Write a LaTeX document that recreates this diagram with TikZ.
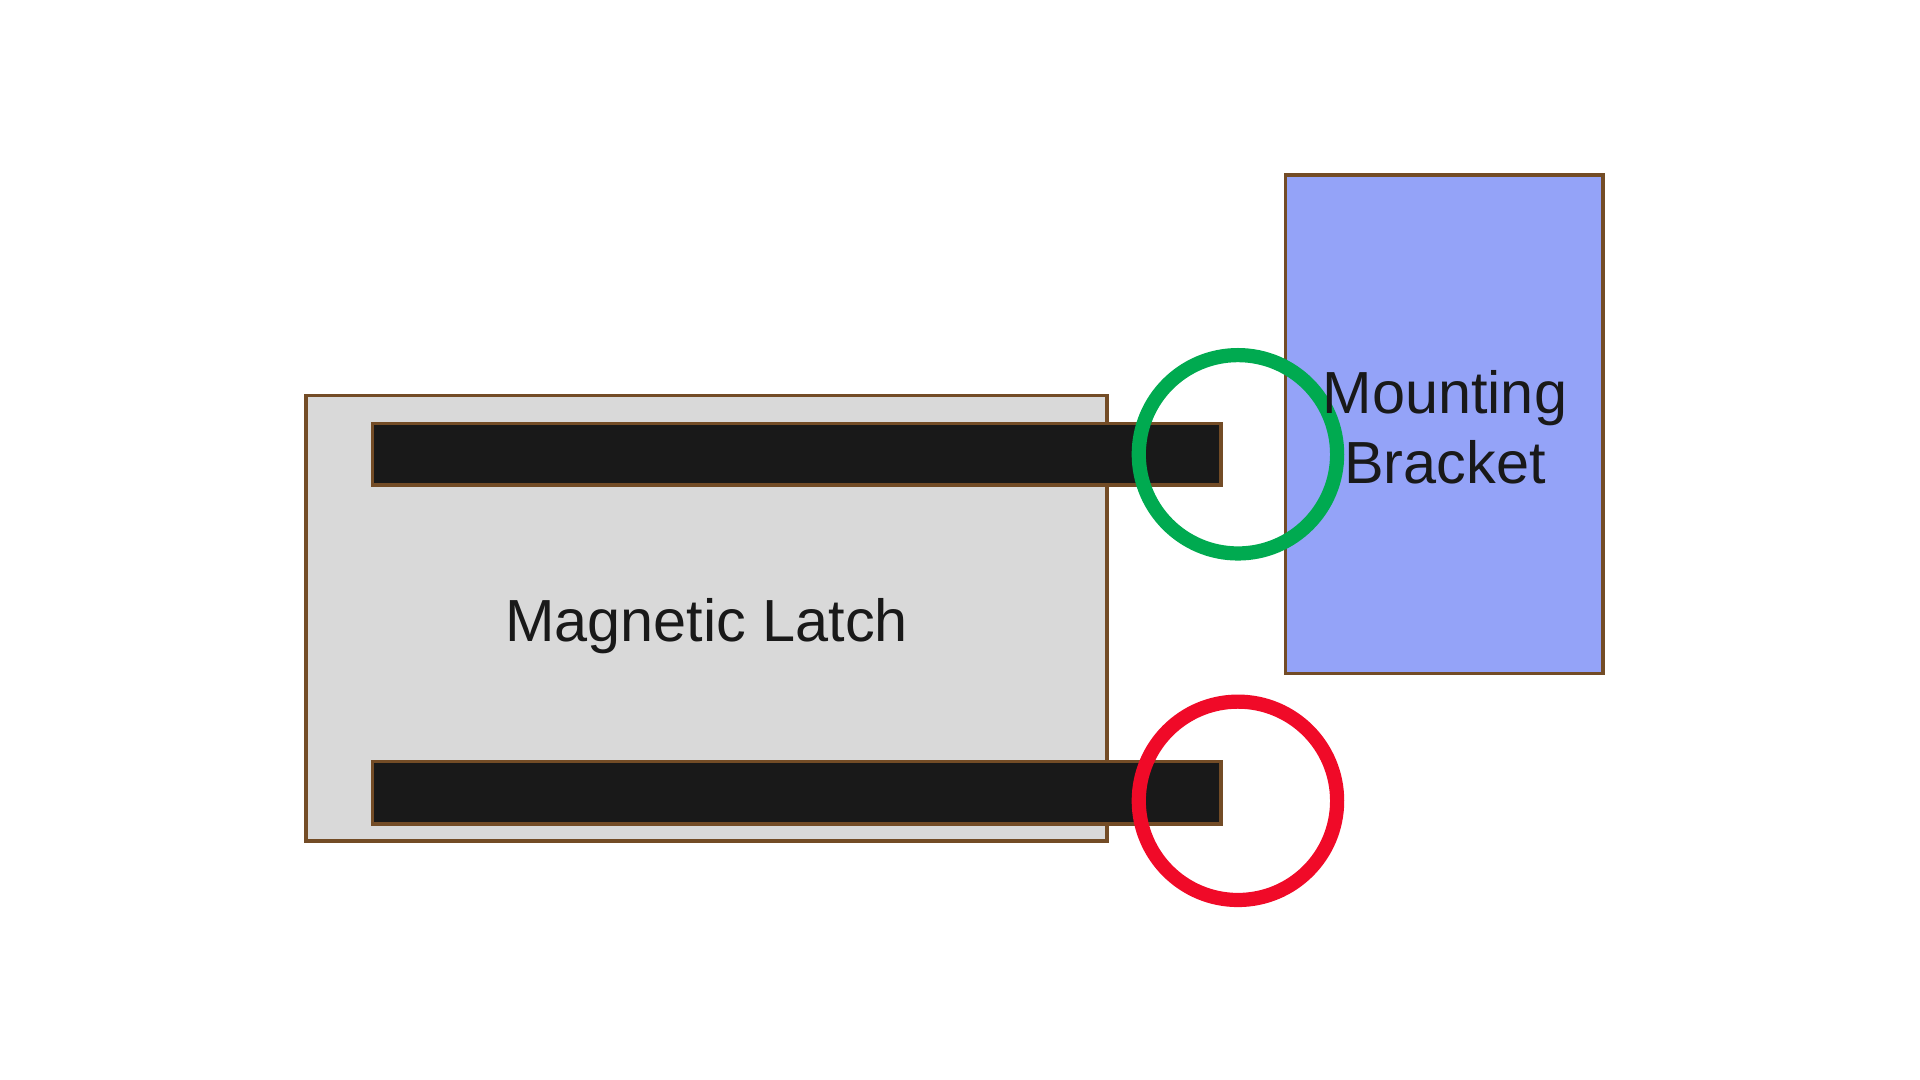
\documentclass[tikz,border=0pt]{standalone}
\usepackage{fontspec}
\setmainfont{Liberation Sans}
\begin{document}
\begin{tikzpicture}[x=0.01cm,y=-0.01cm,
  part/.style={draw=brown!60!black,line width=0.8pt},
  bar/.style={part,fill=black!90},
  ring/.style={line width=3.3pt}]
\useasboundingbox (0,0) rectangle (1568,882);
\draw[part,fill=black!15] (250,323) rectangle (904,687);
\draw[bar] (304,346) rectangle (997,396);
\draw[bar] (304,622) rectangle (997,673);
\draw[part,fill={rgb,255:red,148;green,163;blue,248}] (1050,143) rectangle (1309,550);
\draw[ring,draw={rgb,255:red,0;green,170;blue,80}] (1011,371) circle (81);
\draw[ring,draw={rgb,255:red,240;green,10;blue,40}] (1011,654) circle (81);
\node[font=\fontsize{13.8}{16.2}\selectfont,text=black!90] (lt) at (577,511) {Magnetic Latch};
\node[font=\fontsize{13.8}{16.2}\selectfont,text=black!90,align=center] (bt) at (1180,349) {Mounting\\Bracket};
\end{tikzpicture}
\end{document}
